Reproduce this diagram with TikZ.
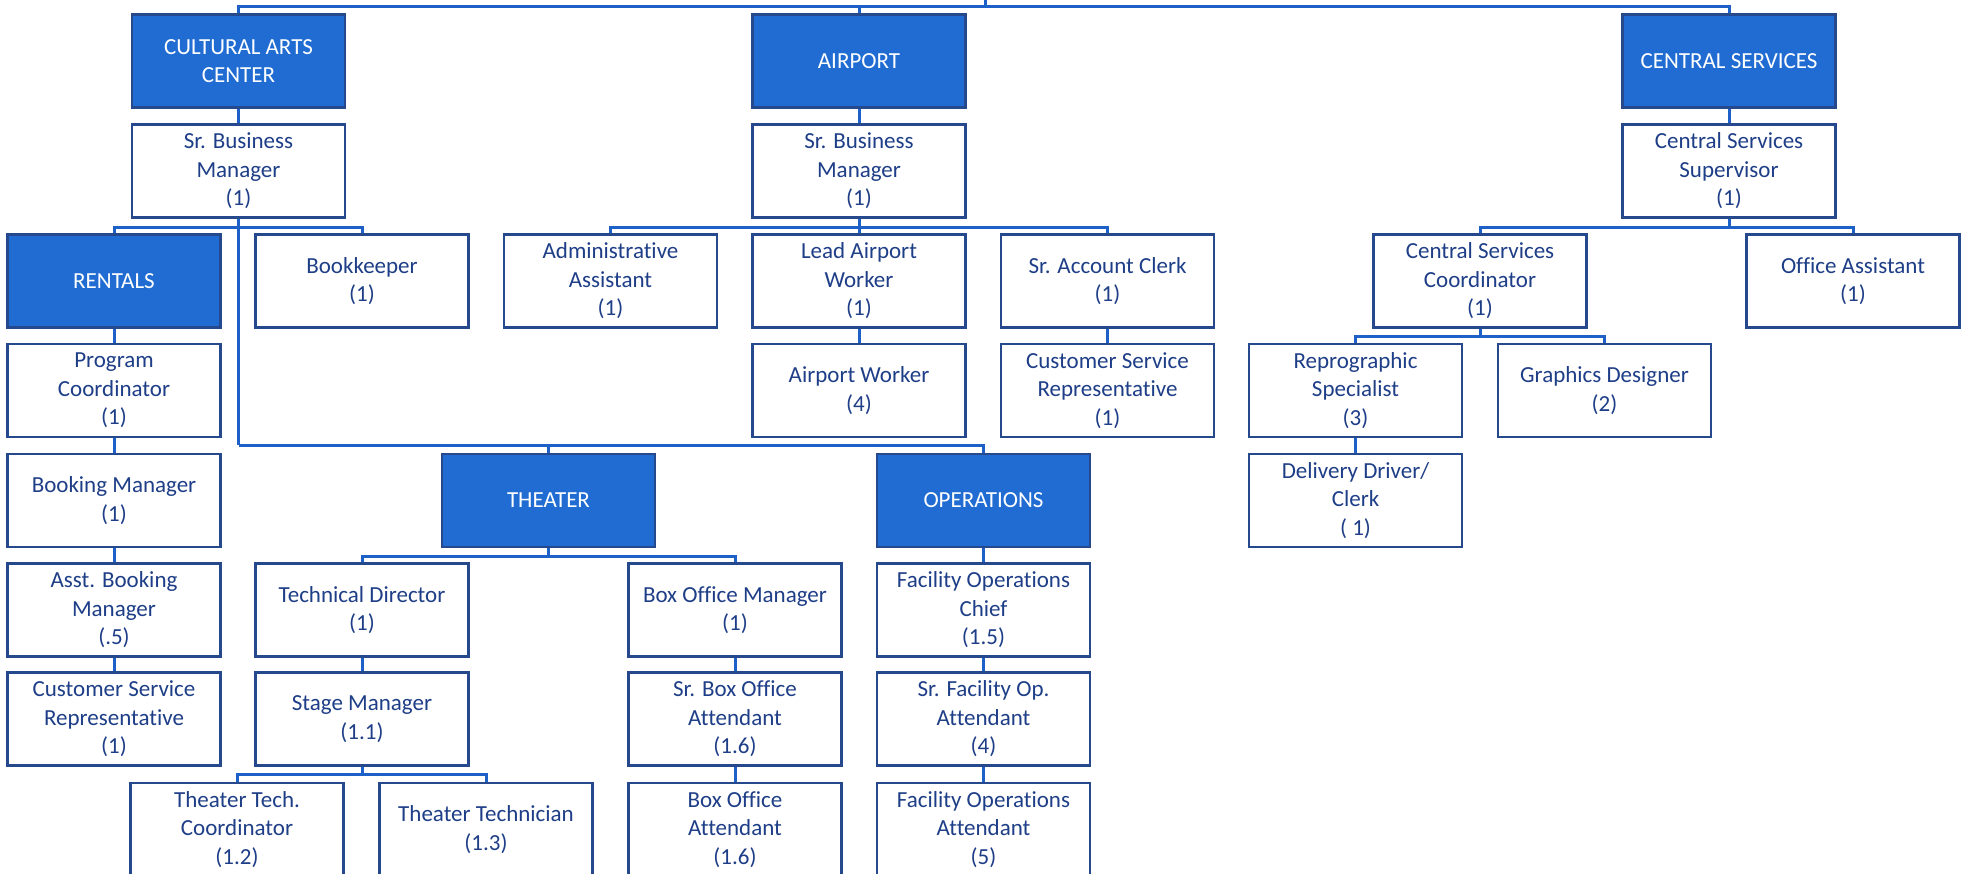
\documentclass[tikz,border=0pt]{standalone}
\usepackage{fontspec}
\setmainfont{Carlito}[Ligatures=NoCommon]
\definecolor{deptfill}{RGB}{32,108,210}
\definecolor{linkblue}{RGB}{28,96,200}
\definecolor{boxedge}{RGB}{38,72,140}
\definecolor{txtblue}{RGB}{30,62,135}
\tikzset{
  posbox/.style={draw=boxedge, line width=2.4pt, fill=white, text=txtblue,
    minimum width=213pt, minimum height=93pt, inner sep=0pt, align=center,
    font=\fontsize{23}{28.5}\selectfont},
  deptbox/.style={posbox, fill=deptfill, text=white},
  link/.style={draw=linkblue, line width=3pt}
}
\begin{document}
\begin{tikzpicture}[x=1pt,y=-1pt]
\useasboundingbox (0,0) rectangle (1967,873);
\clip (0,0) rectangle (1967,873);
\fill[white] (0,0) rectangle (1967,873);

% Junction coordinates
\coordinate (top) at (985,0);
\coordinate (tl) at (985,6);
\coordinate (j1) at (238.5,227);
\coordinate (j2) at (238.5,445);
\coordinate (j3) at (859,227);
\coordinate (j4) at (1729,227);
\coordinate (j5) at (1480,336);
\coordinate (j6) at (548.5,556);
\coordinate (j7) at (362,774);

% Department heads
\node[deptbox] (cac) at (238.5,61) {CULTURAL ARTS\\CENTER};
\node[deptbox] (air) at (859,61) {AIRPORT};
\node[deptbox] (cs) at (1729,61) {CENTRAL SERVICES};

% Row 2
\node[posbox] (sbm1) at (238.5,171) {Sr. Business\\Manager\\(1)};
\node[posbox] (sbm2) at (859,171) {Sr. Business\\Manager\\(1)};
\node[posbox] (css) at (1729,171) {Central Services\\Supervisor\\(1)};

% Row 3
\node[deptbox] (rent) at (114,281) {RENTALS};
\node[posbox] (bk) at (362,281) {Bookkeeper\\(1)};
\node[posbox] (adm) at (610.5,281) {Administrative\\Assistant\\(1)};
\node[posbox] (law) at (859,281) {Lead Airport\\Worker\\(1)};
\node[posbox] (sac) at (1107.5,281) {Sr. Account Clerk\\(1)};
\node[posbox] (csc) at (1480,281) {Central Services\\Coordinator\\(1)};
\node[posbox] (oa) at (1853,281) {Office Assistant\\(1)};

% Row 4
\node[posbox] (pc) at (114,390.5) {Program\\Coordinator\\(1)};
\node[posbox] (aw) at (859,390.5) {Airport Worker\\(4)};
\node[posbox] (csr2) at (1107.5,390.5) {Customer Service\\Representative\\(1)};
\node[posbox] (rep) at (1355.5,390.5) {Reprographic\\Specialist\\(3)};
\node[posbox] (gd) at (1604.5,390.5) {Graphics Designer\\(2)};

% Row 5
\node[posbox] (bm) at (114,500.5) {Booking Manager\\(1)};
\node[deptbox] (th) at (548.5,500.5) {THEATER};
\node[deptbox] (ops) at (983.5,500.5) {OPERATIONS};
\node[posbox] (dd) at (1355.5,500.5) {Delivery Driver/\\Clerk\\( 1)};

% Row 6
\node[posbox] (abm) at (114,610) {Asst. Booking\\Manager\\(.5)};
\node[posbox] (td) at (362,610) {Technical Director\\(1)};
\node[posbox] (bom) at (735,610) {Box Office Manager\\(1)};
\node[posbox] (foc) at (983.5,610) {Facility Operations\\Chief\\(1.5)};

% Row 7
\node[posbox] (csr1) at (114,719) {Customer Service\\Representative\\(1)};
\node[posbox] (sm) at (362,719) {Stage Manager\\(1.1)};
\node[posbox] (sboa) at (735,719) {Sr. Box Office\\Attendant\\(1.6)};
\node[posbox] (sfoa) at (983.5,719) {Sr. Facility Op.\\Attendant\\(4)};

% Row 8
\node[posbox] (ttc) at (237,829.5) {Theater Tech.\\Coordinator\\(1.2)};
\node[posbox] (tt) at (486,829.5) {Theater Technician\\(1.3)};
\node[posbox] (boa) at (735,829.5) {Box Office\\Attendant\\(1.6)};
\node[posbox] (foa) at (983.5,829.5) {Facility Operations\\Attendant\\(5)};

% Connectors
\draw[link] (top) -- (tl);
\draw[link] (cac.north) |- (tl) -| (cs.north);
\draw[link] (air.north) |- (tl);

\draw[link] (cac) -- (sbm1);
\draw[link] (sbm1.south) -- (j1);
\draw[link] (j1) -| (rent.north);
\draw[link] (j1) -| (bk.north);
\draw[link] (j1) -- (j2);
\draw[link] (j2) -| (th.north);
\draw[link] (j2) -| (ops.north);
\draw[link] (rent) -- (pc);
\draw[link] (pc) -- (bm);
\draw[link] (bm) -- (abm);
\draw[link] (abm) -- (csr1);

\draw[link] (air) -- (sbm2);
\draw[link] (sbm2.south) -- (j3);
\draw[link] (j3) -| (adm.north);
\draw[link] (j3) -- (law.north);
\draw[link] (j3) -| (sac.north);
\draw[link] (law) -- (aw);
\draw[link] (sac) -- (csr2);

\draw[link] (cs) -- (css);
\draw[link] (css.south) -- (j4);
\draw[link] (j4) -| (csc.north);
\draw[link] (j4) -| (oa.north);
\draw[link] (csc.south) -- (j5);
\draw[link] (j5) -| (rep.north);
\draw[link] (j5) -| (gd.north);
\draw[link] (rep) -- (dd);

\draw[link] (th.south) -- (j6);
\draw[link] (j6) -| (td.north);
\draw[link] (j6) -| (bom.north);
\draw[link] (td) -- (sm);
\draw[link] (sm.south) -- (j7);
\draw[link] (j7) -| (ttc.north);
\draw[link] (j7) -| (tt.north);
\draw[link] (bom) -- (sboa);
\draw[link] (sboa) -- (boa);

\draw[link] (ops) -- (foc);
\draw[link] (foc) -- (sfoa);
\draw[link] (sfoa) -- (foa);
\end{tikzpicture}
\end{document}
